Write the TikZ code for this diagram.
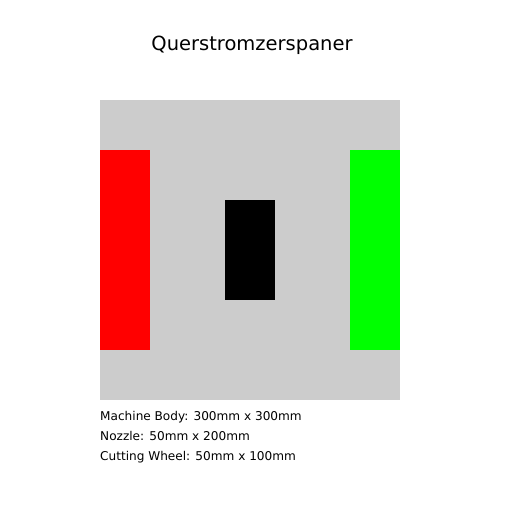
\documentclass[tikz,border=0pt]{standalone}
\usepackage{fontspec}
\setmainfont{DejaVu Sans}
\usetikzlibrary{positioning}

\begin{document}
\begin{tikzpicture}[
  x=1pt, y=-1pt,
  part/.style={draw=none, minimum width=50pt, inner sep=0pt, outer sep=0pt},
  info/.style={anchor=base west, inner sep=0pt, font=\fontsize{12.1}{14}\selectfont}
]
\useasboundingbox[fill=white] (0,0) rectangle (512,512);

% Title
\node[anchor=base, inner sep=0pt, font=\fontsize{19.5}{22}\selectfont] (title) at (252,50) {Querstromzerspaner};

% Machine body and parts
\node[part, fill=black!20, minimum width=300pt, minimum height=300pt, anchor=north west] (body) at (100,100) {};
\node[part, fill=red, minimum height=200pt, anchor=north west] (nozzle) at (100,150) {};
\node[part, fill=green, minimum height=200pt, anchor=north east] (outlet) at (400,150) {};
\node[part, fill=black, minimum height=100pt] (wheel) at (body.center) {};

% Dimensions
\node[info] (dimbody) at (100,420) {Machine Body: 300mm x 300mm};
\node[info] (dimnozzle) at (100,440) {Nozzle: 50mm x 200mm};
\node[info] (dimwheel) at (100,460) {Cutting Wheel: 50mm x 100mm};

\end{tikzpicture}
\end{document}
